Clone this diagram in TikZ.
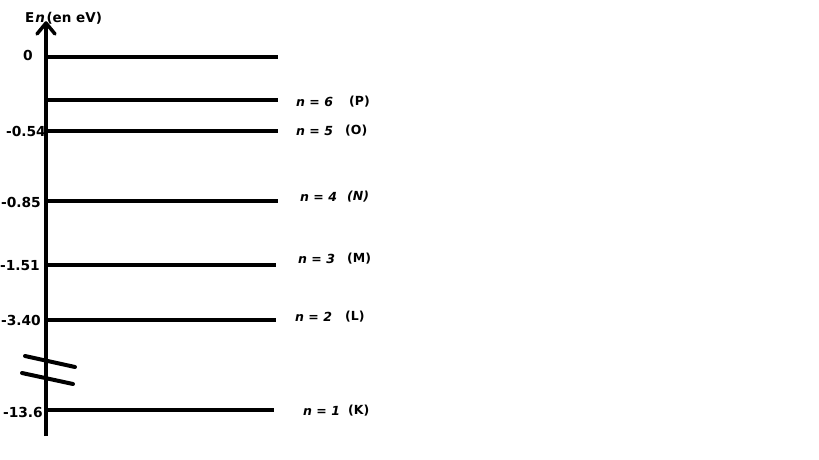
\documentclass[tikz,border=0pt]{standalone}
\usepackage{fontspec}
\setmainfont{DejaVu Sans}
\begin{document}
\begin{tikzpicture}[x=1pt,y=-1pt,
  level/.style={line width=4pt},
  lab/.style={inner sep=0pt,font=\bfseries\fontsize{12.5}{15}\selectfont},
  elab/.style={inner sep=0pt,anchor=east,font=\bfseries\fontsize{13.8}{16}\selectfont},
  nlab/.style={lab,anchor=west,font=\bfseries\itshape\fontsize{12.5}{15}\selectfont}]
 \useasboundingbox[fill=white] (0,0) rectangle (819,460);
 % axis with its arrow and the break
 \draw[line width=4pt] (46,436) -- (46,24);
 \draw[line width=3.5pt,line join=round,line cap=round] (37,34) -- (46,23) -- (55,34);
 \draw[line width=4pt,line cap=round] (25,356) -- (75,367);
 \draw[line width=4pt,line cap=round] (22,373) -- (73,384);
 \node[lab,anchor=west,font=\bfseries\fontsize{13.5}{16}\selectfont] (title) at (25,18) {E\kern1pt\textit{n}\kern1.5pt(en eV)};
 % levels
 \draw[level] (46,57) -- (278,57);
 \draw[level] (46,100) -- (278,100);
 \draw[level] (46,131) -- (278,131);
 \draw[level] (46,201) -- (278,201);
 \draw[level] (46,265) -- (276,265);
 \draw[level] (46,320) -- (276,320);
 \draw[level] (46,410) -- (274,410);
 % energies
 \node[elab] (e0) at (33,55) {0};
 \node[elab] (e5) at (46,131) {-0.54};
 \node[elab] (e4) at (41,202) {-0.85};
 \node[elab] (e3) at (40,266) {-1.51};
 \node[elab] (e2) at (41,320) {-3.40};
 \node[elab] (e1) at (43,412) {-13.6};
 % quantum numbers and shells
 \node[nlab] (n6) at (296,102) {n = 6};
 \node[lab,anchor=west] (s6) at (349,102) {(P)};
 \node[nlab] (n5) at (296,131) {n = 5};
 \node[lab,anchor=west] (s5) at (345,131) {(O)};
 \node[nlab] (n4) at (300,197) {n = 4};
 \node[nlab] (s4) at (347,197) {(N)};
 \node[nlab] (n3) at (298,259) {n = 3};
 \node[lab,anchor=west] (s3) at (347,259) {(M)};
 \node[nlab] (n2) at (295,317) {n = 2};
 \node[lab,anchor=west] (s2) at (345,317) {(L)};
 \node[nlab] (n1) at (303,411) {n = 1};
 \node[lab,anchor=west] (s1) at (348,411) {(K)};
\end{tikzpicture}
\end{document}
